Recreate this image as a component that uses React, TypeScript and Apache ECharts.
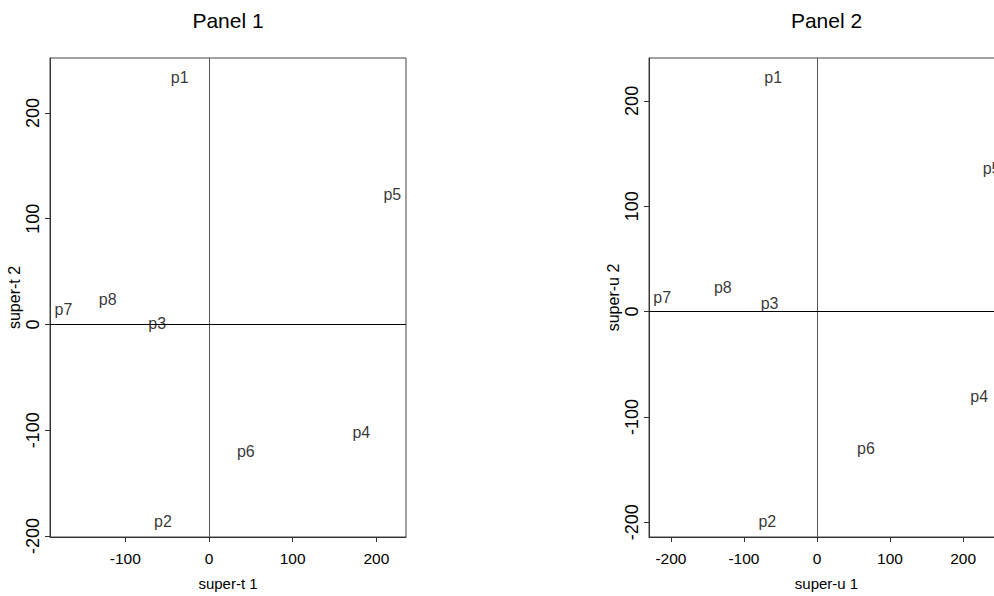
import React, { useEffect, useRef } from "react";
import * as echarts from "echarts";

const labels = ["p1", "p2", "p3", "p4", "p5", "p6", "p7", "p8"];
// Panel 1 (super-t)
const t1 = [-35, -55, -62, 182, 219, 44, -174, -121];
const t2 = [234, -186, 1, -102, 123, -120, 14, 24];
// Panel 2 (super-u)
const u1 = [-60, -68, -65, 222, 239, 67, -212, -129];
const u2 = [222, -199, 8, -81, 136, -130, 13, 23];

const panelTitles = ["Panel 1", "Panel 2"];
const xNames = ["super-t 1", "super-u 1"];
const yNames = ["super-t 2", "super-u 2"];
const xTicks1 = [-100, 0, 100, 200];
const yTicks1 = [-200, -100, 0, 100, 200];
const xTicks2 = [-200, -100, 0, 100, 200];
const yTicks2 = [-200, -100, 0, 100, 200];
const xRange1 = [-190, 235.4];
const yRange1 = [-201, 252];
const xRange2 = [-230, 256];
const yRange2 = [-214, 240.7];

const FONT = "'Liberation Sans', Arial, Helvetica, sans-serif";

export default function App() {
  const ref = useRef<HTMLDivElement>(null);
  useEffect(() => {
    if (!ref.current) return;
    const chart = echarts.init(ref.current, undefined, { renderer: "svg" });
    const grids = [
      { left: 50, top: 58, width: 356, height: 479 },
      { left: 649, top: 58, width: 355, height: 479 },
    ];
    const xr = [xRange1, xRange2];
    const yr = [yRange1, yRange2];
    const xt = [xTicks1, xTicks2];
    const yt = [yTicks1, yTicks2];
    const xs = [t1, u1];
    const ys = [t2, u2];
    const lineColor = "#333";
    const option: any = {
      animation: false,
      backgroundColor: "#fff",
      title: panelTitles.map((t, i) => ({
        text: t,
        left: grids[i].left + grids[i].width / 2,
        top: 10,
        textAlign: "center",
        padding: 0,
        textStyle: { fontFamily: FONT, fontSize: 21, fontWeight: "normal", color: "#000" },
      })),
      grid: grids.map((g) => ({ ...g, show: true, borderColor: "#444", borderWidth: 1, backgroundColor: "transparent" })),
      xAxis: [0, 1].map((i) => ({
        type: "value",
        gridIndex: i,
        min: xr[i][0],
        max: xr[i][1],
        name: xNames[i],
        nameLocation: "middle",
        nameGap: 39,
        nameTextStyle: { fontFamily: FONT, fontSize: 15, color: "#000" },
        splitLine: { show: false },
        axisLine: { show: true, onZero: false, lineStyle: { color: lineColor, width: 1 } },
        axisTick: { show: true, length: 5, customValues: xt[i], lineStyle: { color: lineColor } },
        axisLabel: { customValues: xt[i], margin: 13, fontFamily: FONT, fontSize: 15.5, color: "#000" },
      })),
      yAxis: [0, 1].map((i) => ({
        type: "value",
        gridIndex: i,
        min: yr[i][0],
        max: yr[i][1],
        name: yNames[i],
        nameLocation: "middle",
        nameRotate: 90,
        nameGap: 28,
        nameTextStyle: { fontFamily: FONT, fontSize: 16, color: "#000" },
        splitLine: { show: false },
        axisLine: { show: true, onZero: false, lineStyle: { color: lineColor, width: 1 } },
        axisTick: { show: true, length: 5, customValues: yt[i], lineStyle: { color: lineColor } },
        axisLabel: { customValues: yt[i], rotate: 90, margin: 8, fontFamily: FONT, fontSize: 18, color: "#000" },
      })),
      series: [0, 1].map((i) => ({
        type: "scatter",
        xAxisIndex: i,
        yAxisIndex: i,
        symbolSize: 1,
        itemStyle: { color: "rgba(0,0,0,0)" },
        clip: false,
        data: labels.map((n, k) => ({ name: n, value: [xs[i][k], ys[i][k]] })),
        label: {
          show: true,
          position: "inside",
          formatter: (p: any) => p.name,
          fontFamily: FONT,
          fontSize: 16,
          color: "#000",
        },
        markLine: {
          silent: true,
          symbol: "none",
          label: { show: false },
          data: [
            { xAxis: 0, lineStyle: { color: "#555", width: 1, type: "solid" } },
            { yAxis: 0, lineStyle: { color: "#000", width: 1, type: "solid" } },
          ],
        },
      })),
    };
    chart.setOption(option);
    return () => chart.dispose();
  }, []);
  return (
    <div style={{ position: "fixed", left: 0, top: 0, width: 994, height: 596, overflow: "hidden", background: "#fff" }}>
      <div ref={ref} style={{ width: 1040, height: 596 }} />
    </div>
  );
}
